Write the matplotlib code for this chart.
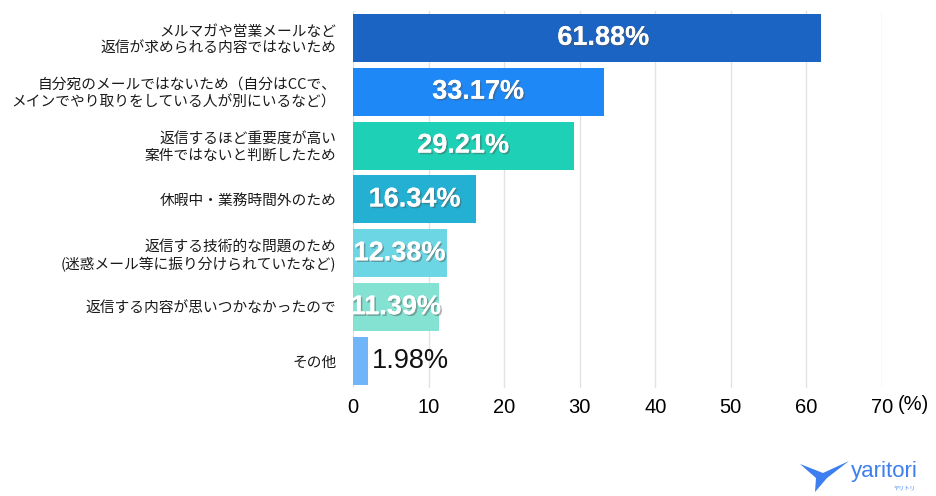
import matplotlib
matplotlib.use('Agg')
import matplotlib.pyplot as plt
import matplotlib.patheffects as pe
from matplotlib.patches import Polygon

plt.rcParams['font.family'] = ['Noto Sans CJK JP', 'DejaVu Sans']

# データ
labels = [
    'メルマガや営業メールなど\n返信が求められる内容ではないため',
    '自分宛のメールではないため（自分はCCで、\nメインでやり取りをしている人が別にいるなど）',
    '返信するほど重要度が高い\n案件ではないと判断したため',
    '休暇中・業務時間外のため',
    '返信する技術的な問題のため\n(迷惑メール等に振り分けられていたなど)',
    '返信する内容が思いつかなかったので',
    'その他',
]
values = [61.88, 33.17, 29.21, 16.34, 12.38, 11.39, 1.98]
colors = ['#1b64c3', '#1e88f6', '#1ed1b6', '#23b0d2', '#6cd6e4', '#84e2d2', '#70b4fa']
xticks = [0, 10, 20, 30, 40, 50, 60, 70]

fig = plt.figure(figsize=(9.37, 4.96), dpi=100)
ax = fig.add_axes([0.3767, 0.2177, 0.5646, 0.7603])

ypos = list(range(len(values)))
ax.barh(ypos, values, height=0.89, color=colors, zorder=3)
ax.set_ylim(len(values) - 0.5, -0.5)
ax.set_xlim(0, 70)

ax.set_yticks(ypos)
ax.set_yticklabels(labels, fontsize=10.6, linespacing=1.2, color='#1a1a1a')
ax.set_xticks(xticks)
ax.set_xticklabels([str(t) for t in xticks], family='Liberation Sans', fontsize=14.5)
ax.tick_params(axis='both', length=0)
ax.tick_params(axis='y', pad=12)
ax.tick_params(axis='x', pad=7)
ax.xaxis.grid(True, color='#e2e2e2', linewidth=1, zorder=0)
for s in ax.spines.values():
    s.set_visible(False)

# (%) の単位
W, H = 937.0, 496.0
fig.text(913 / W, 1 - 405 / H, '(%)', ha='center', va='center',
         fontsize=14.5, family='Liberation Sans')

# 値ラベル
shadow = [pe.withSimplePatchShadow(offset=(1.2, -1.2), shadow_rgbFace='#555555', alpha=0.45),
          pe.Normal()]
for y, v in zip(ypos, values):
    if v > 5:
        dx = 12 if v > 50 else 0  # 一番長いバーはラベルが少し右寄り
        ax.annotate(f'{v:.2f}%', (v / 2, y), xytext=(dx, 0), textcoords='offset points',
                    ha='center', va='center', color='white',
                    fontsize=19.5, fontweight='bold', family='Liberation Sans',
                    path_effects=shadow, zorder=5)
    else:
        ax.text(v + 0.5, y, f'{v:.2f}%', ha='left', va='center', color='#111111',
                fontsize=19.5, family='Liberation Sans', zorder=5)

# ロゴ
pts = [(800, 464), (823, 473), (849, 461), (827, 478), (815, 492), (816, 478)]
logo = Polygon([(x / W, 1 - y / H) for x, y in pts], closed=True,
               transform=fig.transFigure, facecolor='#3d7ff0', edgecolor='none')
fig.patches.append(logo)
fig.text(851 / W, 1 - 477 / H, 'yaritori', fontsize=16, color='#3d7ff0',
         family='Liberation Sans', ha='left', va='baseline')
fig.text(905 / W, 1 - 489 / H, 'ヤリトリ', fontsize=4, color='#3d7ff0', ha='center', va='center')

fig.savefig('out.png', dpi=100)
